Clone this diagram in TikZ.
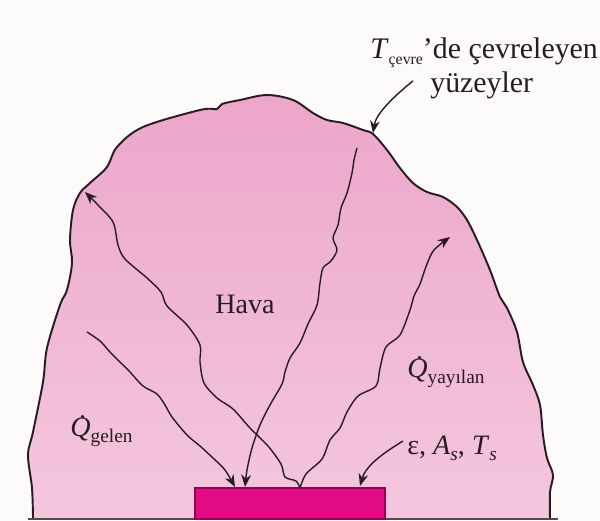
\documentclass[tikz,border=0pt]{standalone}
\usepackage{fontspec}
\setmainfont{Liberation Serif}
\usetikzlibrary{arrows.meta}

\definecolor{zemin}{RGB}{252,250,251}
\definecolor{pembe}{RGB}{246,206,226}
\definecolor{pembealt}{RGB}{244,199,221}
\definecolor{pembekoyu}{RGB}{236,166,202}
\definecolor{yuzeyrenk}{RGB}{226,12,132}
\definecolor{yuzeykenar}{RGB}{150,0,85}
\definecolor{cizgi}{RGB}{40,28,34}

\newcommand{\altyazi}[2][11]{\raisebox{-0.5ex}{\fontsize{#1}{#1}\selectfont #2}}
\newcommand{\Qnokta}{\ooalign{\textit{Q}\cr\hidewidth\kern0.15em\raisebox{0.62em}{.}\hidewidth\cr}}

\begin{document}
\begin{tikzpicture}[x=0.02cm,y=-0.02cm,
    dalga/.style={line width=0.8pt, cizgi},
    ok/.style={-{Stealth[length=7pt,width=5.5pt]}},
    etiket/.style={font=\fontsize{16}{18}\selectfont, inner sep=0pt, text=cizgi}]
    % Background
    \fill[zemin] (0,0) rectangle (600,521);
    \useasboundingbox (0,0) rectangle (600,521);

    % Surrounding surfaces (air region)
    \draw[line width=1.1pt, cizgi, preaction={top color=pembekoyu, middle color=pembe, bottom color=pembealt}]
        plot[smooth, tension=0.55] coordinates {(33,518) (32,488) (28,455) (33,432) (43,382) (47,348) (60,305) (67,290) (72,263) (70,240) (73,210) (80,193) (90,183) (107,167) (117,147) (143,127) (200,110) (217,109) (222,104) (240,100) (267,95) (293,100) (313,113) (327,120) (343,123) (363,130) (373,134) (387,150) (400,168) (413,183) (427,192) (443,197) (457,207) (467,220) (477,240) (490,270) (500,297) (507,308) (517,332) (523,362) (533,385) (540,405) (543,435) (547,458) (553,475) (550,492) (550,518)};
    \draw[gray!60!black, line width=0.8pt] (28,519) -- (558,519);

    % Surface
    \filldraw[fill=yuzeyrenk, draw=yuzeykenar, line width=0.8pt] (195,488) rectangle (385,519);

    % Arrow ends
    \coordinate (kaynak) at (300,488);
    \coordinate (gelenbas) at (87,332);
    \coordinate (gelenuc) at (235,487);
    \coordinate (ustbas) at (357,148);
    \coordinate (ustuc) at (245,487);
    \coordinate (soluc) at (85,192);
    \coordinate (saguc) at (450,237);
    \coordinate (cevreuc) at (373,133);
    \coordinate (yuzeyuc) at (360,486);

    % Incoming radiation
    \draw[dalga, ok] plot[smooth] coordinates {(gelenbas) (100,341) (110,352) (122,364) (130,372) (143,386) (157,394) (165,405) (172,417) (187,435) (200,446) (213,458) (225,470) (gelenuc)};
    \draw[dalga, ok] plot[smooth] coordinates {(ustbas) (354,160) (352,173) (347,193) (341,208) (338,225) (333,238) (337,250) (331,261) (323,268) (320,283) (317,305) (308,324) (300,343) (290,358) (285,372) (282,384) (270,405) (260,425) (252,448) (247,470) (ustuc)};

    % Emitted radiation
    \draw[dalga, ok] plot[smooth] coordinates {(kaynak) (296,481) (285,477) (281,464) (268,446) (250,428) (233,409) (217,398) (204,383) (200,362) (200,345) (187,325) (167,306) (161,292) (147,278) (125,259) (118,245) (113,222) (97,204) (soluc)};
    \draw[dalga, ok] plot[smooth] coordinates {(kaynak) (306,474) (322,459) (330,440) (340,428) (347,412) (358,396) (376,386) (380,368) (386,347) (400,335) (410,310) (414,296) (420,284) (427,264) (434,250) (saguc)};

    % Labels
    \node[etiket, anchor=base] (hava) at (245,313) {Hava};
    \node[etiket, anchor=base west] (qgelen) at (70,436) {\Qnokta\altyazi{gelen}};
    \node[etiket, anchor=base west] (qyayilan) at (407,377) {\Qnokta\altyazi{yayılan}};
    \node[etiket, anchor=base west] (ozellik) at (407,454) {ε, \textit{A}\altyazi{\textit{s}}, \textit{T}\altyazi{\textit{s}}};
    \node[etiket, font=\fontsize{17}{19}\selectfont, anchor=base west] (cevre1) at (370,58) {\textit{T}\altyazi[9]{çevre}’de çevreleyen};
    \node[etiket, font=\fontsize{17}{19}\selectfont, anchor=base west] (cevre2) at (430,92) {yüzeyler};

    % Label arrows
    \draw[dalga, ok] (cevre2.west) ++(-17,-4) coordinate (cevrebas) .. controls (392,98) and (376,114) .. (cevreuc);
    \draw[dalga, ok] (ozellik.west) ++(-4,-7) coordinate (yuzeybas) .. controls (385,452) and (366,465) .. (yuzeyuc);
\end{tikzpicture}
\end{document}
